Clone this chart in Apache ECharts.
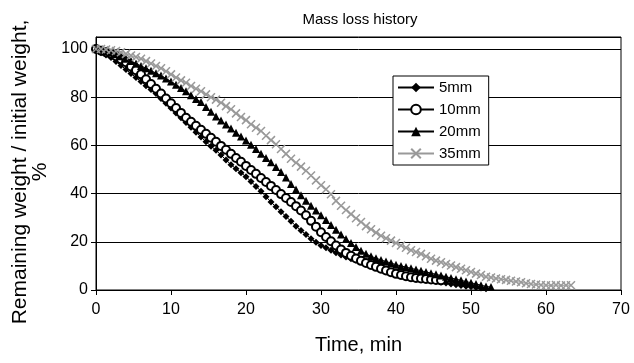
<!DOCTYPE html>
<html>
<head>
<meta charset="utf-8">
<script src="https://cdn.jsdelivr.net/npm/echarts@6/dist/echarts.min.js"></script>
<style>
html,body{margin:0;padding:0;background:#fff;}
#chart{width:634px;height:363px;}
</style>
</head>
<body>
<div id="chart"></div>
<script>
// Time, min (one reading every 40 s)
var time = [0,0.67,1.33,2,2.67,3.33,4,4.67,5.33,6,6.67,7.33,8,8.67,9.33,10,10.67,11.33,12,12.67,13.33,14,14.67,15.33,16,16.67,17.33,18,18.67,19.33,20,20.67,21.33,22,22.67,23.33,24,24.67,25.33,26,26.67,27.33,28,28.67,29.33,30,30.67,31.33,32,32.67,33.33,34,34.67,35.33,36,36.67,37.33,38,38.67,39.33,40,40.67,41.33,42,42.67,43.33,44,44.67,45.33,46,46.67,47.33,48,48.67,49.33,50,50.67,51.33,52,52.67,53.33,54,54.67,55.33,56,56.67,57.33,58,58.67,59.33,60,60.67,61.33,62,62.67,63.33];
// Remaining weight / initial weight, %
var s5mm = [99.5,98.5,97.5, 96.5,94.8,93.2, 91.5,89.8,88.2, 86.5,84.8,83.2, 81.5,79.5,77.5, 75.5,73.5,71.5, 69.5,67.5,65.5, 63.5,61.5,59.7, 58,56,54, 52,50.3,48.7, 47,45,43, 41,38.7,36.5, 34.5,32.5,30.5, 28.5,26.5,24.7, 23,21.3,19.8, 18.5,17.5,16.5, 15.5,14.5,13.7, 13,12.3,11.7, 11,10.3,9.7, 9,8.3,7.7, 7,6.5,6.1, 5.6,5.2,4.8, 4.3,4.0,3.6, 3.2,2.9,2.5, 2.2,1.9,1.6, 1.3,1.0,0.8, 0.5];
var s10mm = [100,99.3,98.7, 98,97,95.8, 94.5,92.8,91.2, 89.5,87.5,85.5, 83.5,81.5,79.5, 77.5,75.5,73.5, 71.5,69.8,68.2, 66.5,64.8,63.2, 61.5,59.8,58.2, 56.5,54.8,53.2, 51.5,49.8,48.2, 46.5,44.8,43.2, 41.5,39.8,38.2, 36.5,34.8,33, 31,28.7,26.3, 24,22,20.2, 18.5,16.8,15.4, 14.2,13.1,12.1, 11.2,10.4,9.6, 8.8,8.1,7.4, 6.7,6.2,5.7, 5.3,5.0,4.8, 4.6,4.4,4.2, 4.0];
var s20mm = [100,99.7,99.2, 98.5,97.8,97, 96,95,94, 93,92,91, 90,89,87.8, 86.5,85.2,83.8, 82.5,80.8,79.3, 78,76,74, 72,70.3,68.7, 67,65.3,63.7, 62,60.3,58.5, 56.5,54.8,53, 51,49,46.7, 44,41.7,39.3, 37,35,33, 31,29,27, 25,23,21.2, 19.5,17.8,16.3, 15,14,13.2, 12.5,11.8,11.2, 10.5,10.0,9.5, 9,8.5,8.0, 7.5,7.0,6.5, 6,5.5,5.0, 4.5,4.0,3.5, 3,2.5,2.0, 1.5,1.2];
var s35mm = [100,100,99.8, 99.5,99.2,98.7, 98,97.3,96.7, 96,95,94, 93,92,90.8, 89.5,88.2,87, 86,84.7,83.5, 82.5,81.2,80, 79,77.7,76.3, 75,73.3,71.8, 70.5,68.8,67.3, 66,64,62.2, 60.5,58.5,56.5, 54.5,52.8,51.2, 49.5,47.5,45.5, 43.5,41.8,39.7, 37,35,33.2, 31.5,29.8,28.2, 26.5,25.2,23.8, 22.5,21.5,20.5, 19.5,18.5,17.5, 16.5,15.8,15, 14,13,12.2, 11.5,10.8,10.2, 9.5,8.8,8.2, 7.5,6.8,6.2, 5.5,5.2,4.8, 4.5,4.2,3.8, 3.5,3.2,2.8, 2.5,2.3,2.1, 2,1.9,2.1, 1.9,2,2];
var seriesNames = ['5mm','10mm','20mm','35mm'];
var xTicks = [0,10,20,30,40,50,60,70];
var yTicks = [0,20,40,60,80,100];
var yTitle = 'Remaining weight / initial weight,\n%';

function pairs(vals){ return vals.map(function(v,i){ return [time[i], v]; }); }

var FONT = "'Liberation Sans', Arial, sans-serif";
var crossPath = 'path://M0,0L10,10M10,0L0,10';

var chart = echarts.init(document.getElementById('chart'), null, {renderer:'canvas'});
chart.setOption({
  backgroundColor:'#fff',
  animation:false,
  textStyle:{fontFamily:FONT},
  title:{text:'Mass loss history', left:355, top:7, textAlign:'center',
    textStyle:{fontFamily:FONT, fontSize:15, fontWeight:'normal', color:'#000'}},
  graphic:[{
    type:'text', x:30, y:172, rotation:Math.PI/2,
    style:{text:yTitle, fontFamily:FONT, fontSize:21, lineHeight:20, fill:'#000',
      textAlign:'center', textVerticalAlign:'middle', align:'center', verticalAlign:'middle'}
  }],
  grid:{left:96, right:13, top:37, bottom:73, show:true, borderColor:'#000', borderWidth:1,
    containLabel:false, outerBoundsMode:'none'},
  legend:{
    orient:'vertical', left:393, top:76,
    backgroundColor:'#fff', borderColor:'#000', borderWidth:1,
    padding:[4,8,4,4], itemGap:7, itemWidth:36, itemHeight:12,
    textStyle:{fontFamily:FONT, fontSize:15, color:'#000'},
    data:seriesNames
  },
  xAxis:{type:'value', min:xTicks[0], max:xTicks[xTicks.length-1], interval:10,
    name:'Time, min', nameLocation:'middle', nameGap:45,
    nameTextStyle:{fontFamily:FONT, fontSize:20, color:'#000'},
    axisLine:{lineStyle:{color:'#000'}}, axisTick:{show:true, length:5, lineStyle:{color:'#000'}},
    axisLabel:{color:'#000', fontSize:16, fontFamily:FONT, margin:12},
    splitLine:{show:false}},
  yAxis:{type:'value', min:yTicks[0], max:105, interval:20,
    axisLine:{show:true, lineStyle:{color:'#000'}}, axisTick:{show:true, length:5, lineStyle:{color:'#000'}},
    axisLabel:{color:'#000', fontSize:16, fontFamily:FONT, margin:8, showMaxLabel:false},
    splitLine:{show:true, lineStyle:{color:'#000', width:1}}},
  series:[
    {name:'5mm', type:'line', data:pairs(s5mm), symbol:'diamond', symbolSize:7,
      lineStyle:{color:'#000', width:1}, itemStyle:{color:'#000'}},
    {name:'10mm', type:'line', data:pairs(s10mm), symbol:'emptyCircle', symbolSize:8,
      lineStyle:{color:'#000', width:1}, itemStyle:{color:'#000', borderWidth:1}},
    {name:'20mm', type:'line', data:pairs(s20mm), symbol:'triangle', symbolSize:8,
      lineStyle:{color:'#000', width:1}, itemStyle:{color:'#000'}},
    {name:'35mm', type:'line', data:pairs(s35mm), symbol:crossPath, symbolSize:8,
      lineStyle:{color:'#999', width:1}, itemStyle:{color:'none', borderColor:'#999', borderWidth:1.5}}
  ]
});
</script>
</body>
</html>
